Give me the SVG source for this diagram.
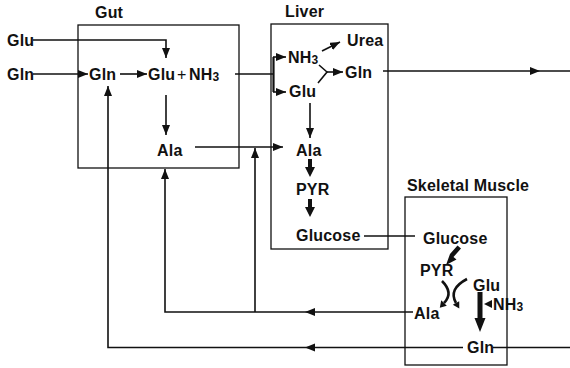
<svg xmlns="http://www.w3.org/2000/svg" width="570" height="368" viewBox="0 0 570 368">
<style>
text{font-family:"Liberation Sans",Arial,sans-serif;font-weight:bold;font-size:16px;fill:#111;letter-spacing:0.2px}
.sub{font-size:12px}
.box{fill:none;stroke:#111;stroke-width:1.3}
.ln{fill:none;stroke:#111;stroke-width:1.6}
.thk{fill:none;stroke:#111;stroke-width:2.6}
.ah{fill:#111;stroke:none}
</style>
<defs>
<marker id="a" viewBox="0 0 10 8" refX="10" refY="4" markerWidth="10" markerHeight="8" markerUnits="userSpaceOnUse" orient="auto"><path d="M0,0 L10,4 L0,8 Z" fill="#111"/></marker>
</defs>

<g id="gut">
<rect class="box" x="78" y="25" width="161" height="143"/>
<text x="95" y="18">Gut</text>
<text x="89" y="80">Gln</text>
<text x="148" y="80">Glu</text>
<text x="177" y="80" style="font-weight:normal">+</text>
<text x="189" y="80">NH<tspan class="sub" dy="1">3</tspan></text>
<text x="157" y="156">Ala</text>
</g>

<g id="inputs">
<text x="7" y="46">Glu</text>
<text x="7" y="80">Gln</text>
</g>

<g id="liver">
<rect class="box" x="271" y="24" width="117" height="225"/>
<text x="285" y="17">Liver</text>
<text x="288" y="63">NH<tspan class="sub" dy="1">3</tspan></text>
<text x="347" y="46">Urea</text>
<text x="345" y="78">Gln</text>
<text x="289" y="97">Glu</text>
<text x="296" y="156">Ala</text>
<text x="296" y="195">PYR</text>
<text x="296" y="241">Glucose</text>
</g>

<g id="muscle">
<rect class="box" x="405" y="197" width="102" height="168"/>
<text x="407" y="191">Skeletal Muscle</text>
<text x="423" y="244">Glucose</text>
<text x="420" y="276">PYR</text>
<text x="473" y="291">Glu</text>
<text x="493" y="310">NH<tspan class="sub" dy="1">3</tspan></text>
<text x="414" y="319">Ala</text>
<text x="467" y="353">Gln</text>
</g>

<g id="connectors">
<!-- gut -->
<path class="ln" d="M33,40 H166 V58" marker-end="url(#a)"/>
<path class="ln" d="M33,74 H88" marker-end="url(#a)"/>
<path class="ln" d="M120,74 H147" marker-end="url(#a)"/>
<path class="ln" d="M166,95 V135" marker-end="url(#a)"/>
<path class="ln" d="M195,147 H283" marker-end="url(#a)"/>
<!-- gut to liver bracket -->
<path class="ln" d="M235,74 H273"/>
<path class="thk" d="M273.5,57 V92" style="stroke-width:2.2"/>
<path class="ln" d="M273,57 H286" marker-end="url(#a)"/>
<path class="ln" d="M273,92 H286" marker-end="url(#a)"/>
<!-- liver -->
<path class="ln" d="M322,51 L340,42" marker-end="url(#a)"/>
<path class="ln" d="M319,65 L327,72 L318,83"/>
<path class="ln" d="M327,72 H343" marker-end="url(#a)"/>
<path class="ln" d="M383,71 H570"/>
<path class="ah" d="M530,67 L540,71 L530,75 Z"/>
<path class="ln" d="M310,103 V138" marker-end="url(#a)"/>
<path class="ah" d="M308,159 H312 V167 H315 L310,177 L305,167 H308 Z"/>
<path class="ah" d="M308,199 H312 V207 H315 L310,217 L305,207 H308 Z"/>
<path class="ln" d="M364,236 H415"/>
<!-- muscle -->
<path class="ah" d="M457.5,245.5 L461,248.5 L453.5,257 L456.5,259.5 L446,265 L450,254 Z"/>
<path class="ah" d="M477.5,292 H482.5 V318 H485.5 L480,332 L474.5,318 H477.5 Z"/>
<path class="ah" d="M484,304 L492,300 L492,308 Z"/>
<path class="thk" d="M442,281 Q454,293 444,303"/>
<path class="ah" d="M439.8,307.8 L446.8,305.8 L441.2,300.2 Z"/>
<path class="thk" d="M467,279 Q448,289 456,303"/>
<path class="ah" d="M459.3,308.6 L459.2,301.2 L452.8,304.8 Z"/>
<!-- returns -->
<path class="ln" d="M413,312 H165 V169" marker-end="url(#a)"/>
<path class="ah" d="M315,308 L305,312 L315,316 Z"/>
<path class="ln" d="M255,312 V148" marker-end="url(#a)"/>
<path class="ln" d="M463,347.5 H108 V86" marker-end="url(#a)"/>
<path class="ah" d="M315,343.5 L305,347.5 L315,351.5 Z"/>
<path class="ln" d="M493,347.5 H570"/>
</g>
</svg>
